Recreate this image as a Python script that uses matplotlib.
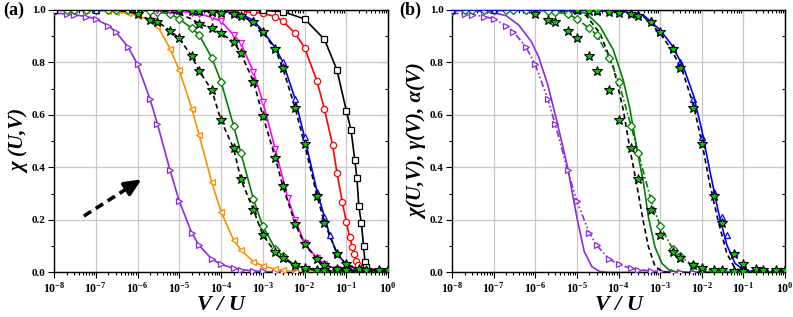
import math
import matplotlib
matplotlib.use("Agg")
import matplotlib.pyplot as plt
from matplotlib.ticker import LogLocator, MultipleLocator, FixedLocator, NullFormatter, FuncFormatter

plt.rcParams['font.family'] = ['Liberation Serif', 'DejaVu Serif']
plt.rcParams['font.weight'] = 'bold'
plt.rcParams['mathtext.fontset'] = 'custom'
plt.rcParams['mathtext.rm'] = 'Liberation Serif:bold'
plt.rcParams['mathtext.bf'] = 'Liberation Serif:bold'
plt.rcParams['mathtext.it'] = 'Liberation Serif:bold:italic'

# ---- data ----
# common sampling grid (1, 2, 3, 6 per decade)
X = [1e-8, 2e-8, 3e-8, 6e-8, 1e-7, 2e-7, 3e-7, 6e-7,
     1e-6, 2e-6, 3e-6, 6e-6, 1e-5, 2e-5, 3e-5, 6e-5,
     1e-4, 2e-4, 3e-4, 6e-4, 1e-3, 2e-3, 3e-3, 6e-3,
     1e-2, 2e-2, 3e-2, 6e-2, 1e-1, 2e-1, 3e-1, 6e-1, 1.0]

purple = [0.988, 0.985, 0.982, 0.975, 0.966, 0.940, 0.917, 0.858,
          0.793, 0.660, 0.566, 0.390, 0.272, 0.150, 0.103, 0.051,
          0.031, 0.016, 0.011, 0.006, 0.004, 0.002, 0.001, 0.0,
          0.0, 0.0, 0.0, 0.0, 0.0, 0.0, 0.0, 0.0, 0.0]
orange = [1.0, 1.0, 1.0, 0.999, 0.998, 0.996, 0.994, 0.988,
          0.978, 0.962, 0.940, 0.853, 0.771, 0.624, 0.523, 0.344,
          0.232, 0.124, 0.086, 0.041, 0.026, 0.012, 0.008, 0.003,
          0.002, 0.001, 0.0, 0.0, 0.0, 0.0, 0.0, 0.0, 0.0]
star1 = [1.0, 1.0, 1.0, 1.0, 1.0, 0.999, 0.998, 0.994,
         0.985, 0.962, 0.956, 0.921, 0.892, 0.823, 0.768, 0.695,
         0.580, 0.473, 0.355, 0.238, 0.143, 0.077, 0.054, 0.028,
         0.018, 0.010, 0.008, 0.005, 0.004, 0.003, 0.003, 0.003, 0.003]
green = [1.0, 1.0, 1.0, 1.0, 1.0, 1.0, 1.0, 0.999,
         0.998, 0.996, 0.993, 0.985, 0.966, 0.930, 0.905, 0.818,
         0.727, 0.559, 0.454, 0.279, 0.177, 0.090, 0.063, 0.027,
         0.015, 0.006, 0.004, 0.002, 0.001, 0.0, 0.0, 0.0, 0.0]
star2 = [1.0, 1.0, 1.0, 1.0, 1.0, 1.0, 1.0, 1.0,
         1.0, 0.999, 0.998, 0.993, 0.985, 0.965, 0.948, 0.930,
         0.911, 0.879, 0.835, 0.727, 0.598, 0.436, 0.331, 0.185,
         0.108, 0.050, 0.027, 0.014, 0.010, 0.008, 0.006, 0.005, 0.005]
star3 = [1.0, 1.0, 1.0, 1.0, 1.0, 1.0, 1.0, 1.0,
         1.0, 1.0, 1.0, 1.0, 0.999, 0.998, 0.996, 0.993,
         0.990, 0.985, 0.978, 0.953, 0.915, 0.850, 0.780, 0.625,
         0.490, 0.291, 0.190, 0.072, 0.031, 0.014, 0.010, 0.008, 0.008]

X_mag = [1e-8, 1e-6, 3e-6, 6e-6, 1e-5, 2e-5, 3e-5, 6e-5, 1e-4, 2e-4,
         3e-4, 6e-4, 1e-3, 2e-3, 4e-3, 6e-3, 1e-2, 2e-2, 3e-2, 6e-2,
         1e-1, 2e-1, 3e-1, 6e-1, 1.0]
magenta = [1.0, 1.0, 0.999, 0.997, 0.995, 0.990, 0.985, 0.972, 0.957, 0.905,
           0.873, 0.763, 0.651, 0.469, 0.283, 0.200, 0.112, 0.054, 0.032, 0.012,
           0.006, 0.002, 0.001, 0.0, 0.0]

X_blue = [1e-8, 1e-7, 1e-6, 1e-5, 3e-5, 1e-4, 2e-4, 3e-4, 6e-4,
          1e-3, 2e-3, 3e-3, 6e-3, 1e-2, 2e-2, 3e-2, 4e-2, 6e-2,
          1e-1, 2e-1, 3e-1, 6e-1, 1.0]
blue = [1.0, 1.0, 1.0, 1.0, 0.998, 0.995, 0.990, 0.985, 0.960,
        0.920, 0.856, 0.803, 0.660, 0.515, 0.308, 0.213, 0.143, 0.073,
        0.029, 0.010, 0.005, 0.003, 0.002]

X_red = [1e-8, 1e-6, 1e-4, 3e-4, 6e-4, 1e-3, 2e-3, 3e-3, 6e-3,
         1e-2, 2e-2, 3e-2, 4.7e-2, 6e-2, 8e-2, 0.10, 0.12, 0.14,
         0.155, 0.175, 0.19, 0.30, 0.60, 1.0]
red = [1.0, 1.0, 0.999, 0.995, 0.991, 0.987, 0.975, 0.958, 0.911,
       0.857, 0.728, 0.622, 0.486, 0.380, 0.270, 0.194, 0.137, 0.098,
       0.070, 0.045, 0.029, 0.009, 0.004, 0.002]

X_black = [1e-8, 1e-6, 1e-4, 1e-3, 3e-3, 1e-2, 3e-2, 6e-2, 0.10,
           0.13, 0.16, 0.18, 0.20, 0.23, 0.26, 0.28, 0.30, 0.60, 1.0]
black = [1.0, 1.0, 1.0, 0.999, 0.994, 0.966, 0.888, 0.771, 0.617,
         0.543, 0.429, 0.359, 0.253, 0.187, 0.100, 0.041, 0.020, 0.005, 0.003]

# panel (b) model curves
Xth_purple = [1e-8, 3e-8, 1e-7, 2e-7, 4e-7, 8e-7, 1.2e-6, 2e-6, 3.5e-6,
              6e-6, 1e-5, 1.5e-5, 2.3e-5, 3.5e-5, 6e-5, 1e-4, 1.0]
th_purple = [0.999, 0.997, 0.990, 0.978, 0.943, 0.880, 0.822, 0.715, 0.560,
             0.400, 0.210, 0.080, 0.022, 0.004, 0.0005, 0.0, 0.0]

Xth_green = [1e-8, 1e-6, 1e-5, 1.7e-5, 3.6e-5, 7.5e-5, 1.3e-4, 1.9e-4,
             2.7e-4, 4e-4, 5.2e-4, 7.5e-4, 1.1e-3, 1.7e-3, 3e-3, 1.0]
th_green = [1.0, 1.0, 0.996, 0.987, 0.937, 0.848, 0.733, 0.620,
            0.480, 0.340, 0.213, 0.098, 0.035, 0.007, 0.0, 0.0]
dash_green = [1.0, 1.0, 0.993, 0.978, 0.911, 0.784, 0.620, 0.467,
              0.340, 0.190, 0.100, 0.025, 0.004, 0.0, 0.0, 0.0]

Xth_blue = [1e-8, 1e-5, 1e-4, 4e-4, 1e-3, 1.9e-3, 3.6e-3, 6.3e-3, 1e-2,
            1.58e-2, 2.5e-2, 4e-2, 6.3e-2, 0.1, 0.2, 1.0]
th_blue = [1.0, 1.0, 0.997, 0.980, 0.924, 0.867, 0.784, 0.676, 0.543,
           0.384, 0.232, 0.105, 0.035, 0.010, 0.0, 0.0]
dash_blue = [1.0, 1.0, 0.996, 0.975, 0.911, 0.848, 0.759, 0.638, 0.498,
             0.333, 0.194, 0.073, 0.016, 0.003, 0.0, 0.0]

# arrow in panel (a): tail, start of head, tip
arrow_x = [5.2e-8, 6.6e-7, 1.25e-6]
arrow_y = [0.215, 0.327, 0.355]

C_PURPLE = '#8A2BE2'
C_ORANGE = '#FF8C00'
C_GREEN = '#008000'
C_STAR = '#00C800'
C_MAG = '#FF00FF'
C_BLUE = '#0000FF'
C_RED = '#FF0000'

DPI = 100
fig = plt.figure(figsize=(7.93, 3.17), dpi=DPI)
ax1 = fig.add_axes([0.0681, 0.1404, 0.4212, 0.8281])
ax2 = fig.add_axes([0.5700, 0.1404, 0.4199, 0.8281])

ms = 4.5
lw = 1.2


def open_line(ax, x, y, c, m, ls='-', msz=ms):
    ax.plot(x, y, color=c, lw=lw, ls=ls, marker=m, ms=msz, mfc='white',
            mec=c, mew=0.9, zorder=3)


def star_line(ax, x, y, start, ls='--'):
    if ls:
        ax.plot(x, y, color='black', lw=lw, ls=ls, dashes=(3, 2), zorder=4)
    ax.plot(x[start:], y[start:], ls='none', marker='*', ms=7.5, mfc=C_STAR,
            mec='black', mew=0.8, zorder=5)


# ---- panel (a) ----
open_line(ax1, X, purple, C_PURPLE, '>')
open_line(ax1, X, orange, C_ORANGE, '<')
open_line(ax1, X, green, C_GREEN, 'D', msz=3.8)
open_line(ax1, X_mag, magenta, C_MAG, 'v')
open_line(ax1, X_blue, blue, C_BLUE, '^')
open_line(ax1, X_red, red, C_RED, 'o')
open_line(ax1, X_black, black, 'black', 's', msz=4)
star_line(ax1, X, star1, 8)
star_line(ax1, X, star2, 14)
star_line(ax1, X, star3, 12)

# dashed shaft + solid head
ax1.plot(arrow_x[:2], arrow_y[:2], color='black', lw=2.6, dashes=(2.4, 1.5),
         solid_capstyle='butt', zorder=6)
ax1.annotate('', xy=(arrow_x[2], arrow_y[2]), xytext=(arrow_x[1], arrow_y[1]),
             arrowprops=dict(arrowstyle='-|>,head_length=1.0,head_width=0.45',
                             color='black', lw=2.6, shrinkA=0, shrinkB=0),
             zorder=6)

# ---- panel (b) ----
ax2.plot(Xth_purple, th_purple, color=C_PURPLE, lw=lw, zorder=3)
ax2.plot(X, purple, color=C_PURPLE, lw=lw, ls=(0, (4, 1.5, 1, 1.5, 1, 1.5)),
         marker='>', ms=ms, mfc='white', mec=C_PURPLE, mew=0.9, zorder=3)
ax2.plot(Xth_green, dash_green, color='black', lw=lw, dashes=(3, 2), zorder=3)
ax2.plot(Xth_green, th_green, color=C_GREEN, lw=lw, zorder=3)
ax2.plot(X, green, color=C_GREEN, lw=lw, ls=(0, (4, 1.5, 1, 1.5)),
         marker='D', ms=3.8, mfc='white', mec=C_GREEN, mew=0.9, zorder=3)
ax2.plot(Xth_blue, dash_blue, color='black', lw=lw, dashes=(3, 2), zorder=3)
ax2.plot(Xth_blue, th_blue, color=C_BLUE, lw=lw, zorder=3)
ax2.plot(X_blue, blue, ls='none', marker='^', ms=ms, mfc='none',
         mec=C_BLUE, mew=0.9, zorder=3)
star_line(ax2, X, star1, 8, ls=None)
star_line(ax2, X, star3, 12, ls=None)

decades = [1e-8, 1e-7, 1e-6, 1e-5, 1e-4, 1e-3, 1e-2, 1e-1, 1e0]


def fmt_x(v, pos):
    return r'$\mathbf{10^{%d}}$' % round(math.log10(v))


for ax in (ax1, ax2):
    ax.set_xscale('log')
    ax.set_xlim(1e-8, 1.0)
    ax.set_ylim(0.0, 1.0)
    ax.xaxis.set_major_locator(FixedLocator(decades))
    ax.xaxis.set_major_formatter(FuncFormatter(fmt_x))
    ax.xaxis.set_minor_locator(LogLocator(base=10, subs=range(2, 10), numticks=20))
    ax.xaxis.set_minor_formatter(NullFormatter())
    ax.yaxis.set_major_locator(MultipleLocator(0.2))
    ax.yaxis.set_minor_locator(MultipleLocator(0.1))
    ax.yaxis.set_major_formatter(FuncFormatter(lambda v, p: '%.1f' % v))
    ax.grid(True, which='major', color='#c8c8c8', lw=0.9, zorder=0)
    ax.set_axisbelow(True)
    ax.tick_params(which='both', direction='out', top=False, right=False,
                   width=0.8, pad=2)
    ax.tick_params(axis='x', labelsize=8.5)
    ax.tick_params(axis='y', labelsize=8)
    ax.tick_params(which='major', length=4)
    ax.tick_params(which='minor', length=2)
    for s in ax.spines.values():
        s.set_linewidth(1.0)
    ax.set_xlabel('V / U', fontsize=16, fontstyle='italic', fontweight='bold',
                  labelpad=0)
    # mirrored inward ticks on top and right
    sx = ax.secondary_xaxis('top')
    sx.xaxis.set_major_locator(FixedLocator(decades))
    sx.xaxis.set_minor_locator(LogLocator(base=10, subs=range(2, 10), numticks=20))
    sx.tick_params(which='both', direction='in', labeltop=False, width=0.8)
    sx.tick_params(which='major', length=4)
    sx.tick_params(which='minor', length=2)
    sy = ax.secondary_yaxis('right')
    sy.yaxis.set_major_locator(MultipleLocator(0.2))
    sy.yaxis.set_minor_locator(MultipleLocator(0.1))
    sy.tick_params(which='both', direction='in', labelright=False, width=0.8)
    sy.tick_params(which='major', length=4)
    sy.tick_params(which='minor', length=2)

ax1.set_ylabel('χ (U,V)', fontsize=15, fontstyle='italic', fontweight='bold',
               labelpad=1)
ax2.set_ylabel('χ(U,V), γ(V), α(V)', fontsize=15, fontstyle='italic',
               fontweight='bold', labelpad=1)

fig.text(0.004, 0.995, '(a)', fontsize=13, fontweight='bold', va='top', ha='left')
fig.text(0.504, 0.995, '(b)', fontsize=13, fontweight='bold', va='top', ha='left')

fig.savefig('out.png', dpi=DPI)
